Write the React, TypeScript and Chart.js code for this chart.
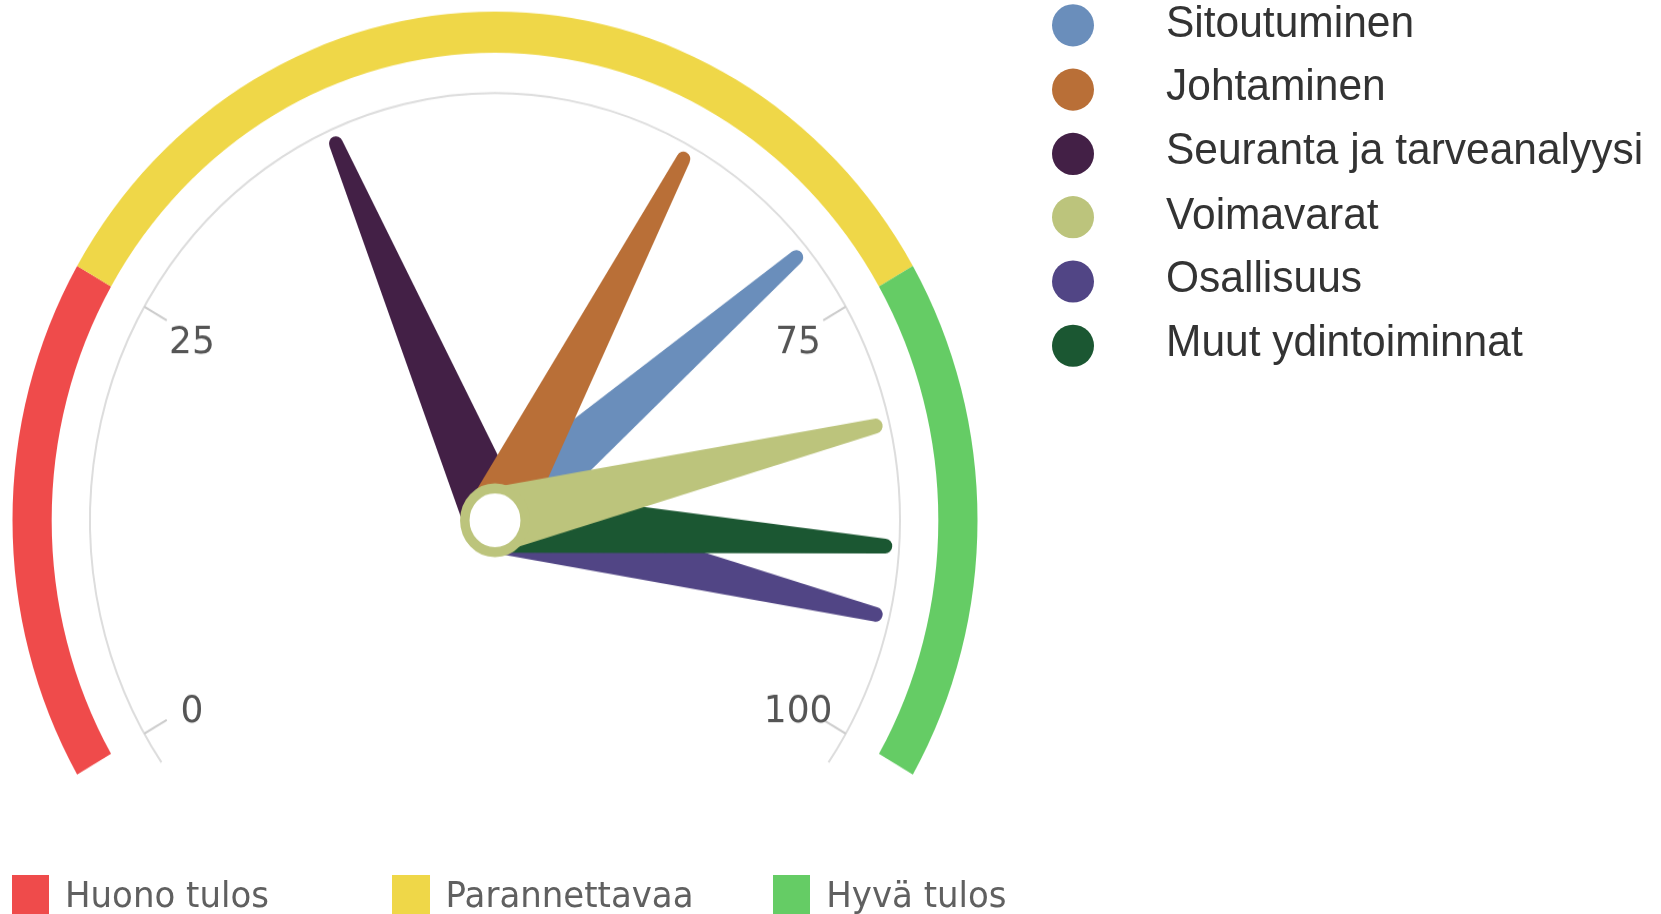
import React, { useEffect, useRef } from 'react';
import { Chart, registerables } from 'chart.js';

Chart.register(...registerables);

// ---- data ----
const bandLabels = ['Huono tulos', 'Parannettavaa', 'Hyvä tulos'];
const bandLimits = [0, 25, 75, 100];
const bandColors = ['#EF4B4B', '#EFD748', '#65CC65'];

const seriesNames = [
  'Sitoutuminen',
  'Johtaminen',
  'Seuranta ja tarveanalyysi',
  'Voimavarat',
  'Osallisuus',
  'Muut ydintoiminnat',
];
const seriesValues = [71, 62, 40, 82, 93, 89];
const seriesColors = ['#6A8EBB', '#B96F37', '#432046', '#BCC47C', '#514585', '#1B5732'];
const drawOrder = [0, 2, 1, 4, 5, 3];

const tickValues = [0, 25, 75, 100];
const tickLabels = ['0', '25', '75', '100'];

// ---- layout ----
const W = 1661;
const H = 867;
const STRETCH = 914 / 867;
const OUTER_R = 482.5;
const CUTOUT = '91.88%';
const AXIS_R = 405;
const TICK_IN = 379;
const LABEL_R = 350;
const LABEL_DY = 7;
const NEEDLE_R = 391;
const NEEDLE_BASE = 31;
const NEEDLE_TIP = 7;
const HUB_R = 30.2;
const HUB_W = 9.5;

const gaugePlugin = {
  id: 'gaugeNeedles',
  afterDatasetsDraw(chart: any) {
    const meta = chart.getDatasetMeta(0);
    const first = meta.data[0];
    const last = meta.data[meta.data.length - 1];
    const cx = first.x;
    const cy = first.y;
    const a0 = first.startAngle;
    const a1 = last.endAngle;
    const min = bandLimits[0];
    const max = bandLimits[bandLimits.length - 1];
    const ang = (v: number) => a0 + ((v - min) / (max - min)) * (a1 - a0);
    const ctx: CanvasRenderingContext2D = chart.ctx;
    ctx.save();

    // axis line
    ctx.strokeStyle = '#DDDDDD';
    ctx.lineWidth = 2;
    ctx.beginPath();
    ctx.arc(cx, cy, AXIS_R, ang(min - 1.9), ang(max + 1.9));
    ctx.stroke();

    // ticks + labels
    ctx.strokeStyle = '#CCCCCC';
    ctx.fillStyle = '#555555';
    ctx.font = '36px "DejaVu Sans"';
    ctx.textAlign = 'center';
    ctx.textBaseline = 'middle';
    tickValues.forEach((v, i) => {
      const a = ang(v);
      const c = Math.cos(a);
      const s = Math.sin(a);
      ctx.beginPath();
      ctx.moveTo(cx + c * AXIS_R, cy + s * AXIS_R);
      ctx.lineTo(cx + c * TICK_IN, cy + s * TICK_IN);
      ctx.stroke();
      ctx.fillText(tickLabels[i], cx + c * LABEL_R, cy + s * LABEL_R + LABEL_DY);
    });

    // needles
    drawOrder.forEach((i) => {
      const a = ang(seriesValues[i]);
      const ux = Math.cos(a);
      const uy = Math.sin(a);
      const px = -uy;
      const py = ux;
      const tx = cx + ux * NEEDLE_R;
      const ty = cy + uy * NEEDLE_R;
      ctx.fillStyle = seriesColors[i];
      ctx.beginPath();
      ctx.moveTo(cx + px * NEEDLE_BASE, cy + py * NEEDLE_BASE);
      ctx.lineTo(tx + px * NEEDLE_TIP, ty + py * NEEDLE_TIP);
      ctx.arc(tx, ty, NEEDLE_TIP, a + Math.PI / 2, a - Math.PI / 2, true);
      ctx.lineTo(cx - px * NEEDLE_BASE, cy - py * NEEDLE_BASE);
      ctx.closePath();
      ctx.fill();
    });

    // hub
    ctx.beginPath();
    ctx.arc(cx, cy, HUB_R, 0, Math.PI * 2);
    ctx.fillStyle = '#FFFFFF';
    ctx.fill();
    ctx.lineWidth = HUB_W;
    ctx.strokeStyle = seriesColors[3];
    ctx.stroke();

    ctx.restore();
  },
};

export default function App() {
  const canvasRef = useRef<HTMLCanvasElement | null>(null);

  useEffect(() => {
    if (!canvasRef.current) return;
    const bandSizes = bandLimits.slice(1).map((v, i) => v - bandLimits[i]);
    const chart = new Chart(canvasRef.current, {
      type: 'doughnut',
      data: {
        labels: bandLabels,
        datasets: [
          {
            data: bandSizes,
            backgroundColor: bandColors,
            borderWidth: 0,
            rotation: -120,
            circumference: 240,
            radius: OUTER_R,
            cutout: CUTOUT,
          } as any,
        ],
      },
      options: {
        responsive: false,
        animation: false,
        events: [],
        layout: { padding: { left: 0, top: 0, right: W - 990, bottom: H - 745.6 } },
        plugins: {
          legend: { display: false },
          tooltip: { enabled: false },
        },
      },
      plugins: [gaugePlugin],
    });
    return () => chart.destroy();
  }, []);

  return (
    <div
      style={{
        position: 'absolute',
        left: 0,
        top: 0,
        width: W,
        height: H,
        background: '#FFFFFF',
        transform: `scaleY(${STRETCH})`,
        transformOrigin: '0 0',
        overflow: 'hidden',
      }}
    >
      <canvas ref={canvasRef} width={W} height={H} style={{ display: 'block', position: 'absolute', left: 0, top: 0 }} />
      {seriesNames.map((name, i) => {
        const cy = 24.1 + i * 60.7;
        return (
          <React.Fragment key={name}>
            <div
              style={{
                position: 'absolute',
                left: 1052,
                top: cy - 20,
                width: 42,
                height: 40,
                borderRadius: '50%',
                background: seriesColors[i],
              }}
            />
            <div
              style={{
                position: 'absolute',
                left: 1166,
                top: cy - 24.5,
                font: '42.5px "Liberation Sans", Arial, sans-serif',
                lineHeight: 1,
                color: '#333333',
                whiteSpace: 'nowrap',
              }}
            >
              {name}
            </div>
          </React.Fragment>
        );
      })}
      {bandLabels.map((label, i) => (
        <React.Fragment key={label}>
          <div
            style={{
              position: 'absolute',
              left: 11.7 + i * 380.6,
              top: 830.2,
              width: 37.6,
              height: 40,
              background: bandColors[i],
            }}
          />
          <div
            style={{
              position: 'absolute',
              left: 65 + i * 380.6,
              top: 831.4,
              font: '34px "DejaVu Sans", sans-serif',
              lineHeight: 1,
              color: '#606060',
              whiteSpace: 'nowrap',
            }}
          >
            {label}
          </div>
        </React.Fragment>
      ))}
    </div>
  );
}
